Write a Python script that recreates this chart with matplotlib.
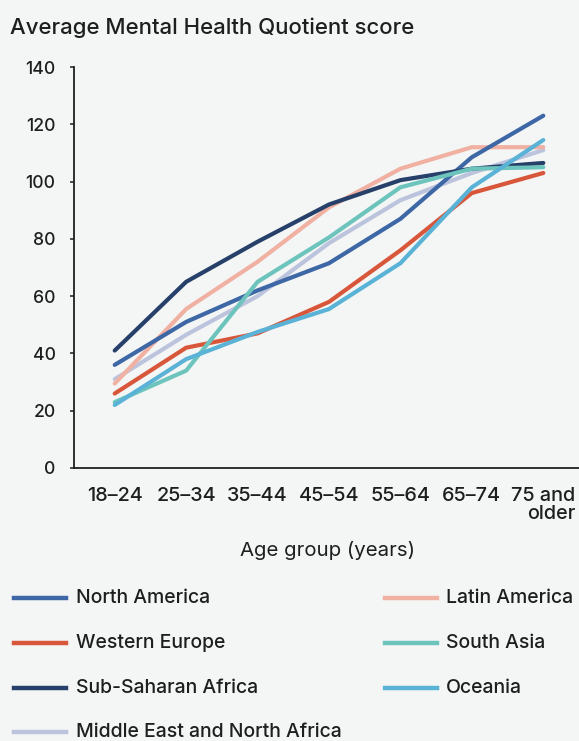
import matplotlib
matplotlib.use("Agg")
import matplotlib.pyplot as plt
from matplotlib.lines import Line2D

plt.rcParams['font.family'] = ['Inter', 'DejaVu Sans']
plt.rcParams['font.weight'] = 'medium'

age_groups = ["18–24", "25–34", "35–44", "45–54", "55–64", "65–74", "75 and\nolder"]

north_america = [36, 51, 62, 71.5, 87, 108.5, 123]
western_europe = [26, 42, 47, 58, 76, 96, 103]
sub_saharan_africa = [41, 65, 79, 92, 100.5, 104.5, 106.5]
mena = [31, 46.5, 60, 78.5, 93.5, 103, 111]
latin_america = [29.5, 55.5, 72, 91, 104.5, 112, 112]
south_asia = [23, 34, 65, 80.5, 98, 104.5, 105]
oceania = [22, 38, 47.5, 55.5, 71.5, 98, 114.5]

series = [
    ("North America", north_america, "#3e67a6"),
    ("Western Europe", western_europe, "#d8573a"),
    ("Sub-Saharan Africa", sub_saharan_africa, "#27406a"),
    ("Middle East and North Africa", mena, "#bcc3dc"),
    ("Latin America", latin_america, "#f0b1a2"),
    ("South Asia", south_asia, "#6dc4bd"),
    ("Oceania", oceania, "#5ab3d6"),
]
draw_order = ["Middle East and North Africa", "Latin America", "Western Europe",
              "North America", "Sub-Saharan Africa", "South Asia", "Oceania"]

W, H = 579, 741
bg = "#f4f6f6"
txt = "#1e1e1e"
fig = plt.figure(figsize=(W / 100, H / 100), dpi=100, facecolor=bg)
renderer = fig.canvas.get_renderer()


def fit(text_obj, target_px):
    w = text_obj.get_window_extent(renderer).width
    text_obj.set_fontsize(text_obj.get_fontsize() * target_px / w)


ax = fig.add_axes([74 / W, 1 - 468 / H, (W - 74) / W, (468 - 67) / H], facecolor=bg)

x = list(range(len(age_groups)))
lookup = {n: (v, c) for n, v, c in series}
for name in draw_order:
    vals, col = lookup[name]
    ax.plot(x, vals, color=col, lw=3.0, solid_capstyle='round', solid_joinstyle='round')

ax.set_ylim(0, 140)
ax.set_xlim(-0.57, 6.5)
ax.set_yticks(range(0, 141, 20))
ax.set_xticks(x)

probe = fig.text(0, 0, "18–24", fontsize=14)
fit(probe, 56)
xt_size = probe.get_fontsize()
probe.set_text("140"); probe.set_fontsize(13)
fit(probe, 30)
yt_size = probe.get_fontsize()
probe.remove()

ax.set_xticklabels(age_groups, fontsize=xt_size, color=txt, linespacing=1.0)
ax.get_xticklabels()[-1].set_multialignment('right')
ax.tick_params(axis='y', length=3.2, width=1.1, color=txt, labelsize=yt_size, labelcolor=txt, pad=10)
ax.tick_params(axis='x', length=0, pad=14)
for s in ['top', 'right']:
    ax.spines[s].set_visible(False)
for s in ['left', 'bottom']:
    ax.spines[s].set_color(txt)
    ax.spines[s].set_linewidth(1.3)

xl = ax.set_xlabel("Age group (years)", fontsize=15, color=txt)
fit(xl, 175)
ax.xaxis.set_label_coords((328 - 74) / (W - 74), -(541 - 468) / (468 - 67))

title = fig.text(10 / W, 1 - 28 / H, "Average Mental Health Quotient score", fontsize=14,
                 color=txt, va='center', ha='left')
fit(title, 403)

col1 = ["North America", "Western Europe", "Sub-Saharan Africa", "Middle East and North Africa"]
col2 = ["Latin America", "South Asia", "Oceania"]
rows_y = [598, 643, 688, 732]
probe = fig.text(0, 0, "Middle East and North Africa", fontsize=13)
fit(probe, 266)
leg_size = probe.get_fontsize()
probe.remove()
for names, hx0, tx in [(col1, 14, 76), (col2, 385, 446)]:
    for name, yy in zip(names, rows_y):
        col = lookup[name][1]
        fig.add_artist(Line2D([hx0 / W, (hx0 + 52) / W], [1 - yy / H, 1 - yy / H],
                              color=col, lw=3.2, transform=fig.transFigure))
        fig.text(tx / W, 1 - yy / H, name, fontsize=leg_size, color=txt,
                 va='center', ha='left')

fig.savefig("out.png", dpi=100, facecolor=bg)
